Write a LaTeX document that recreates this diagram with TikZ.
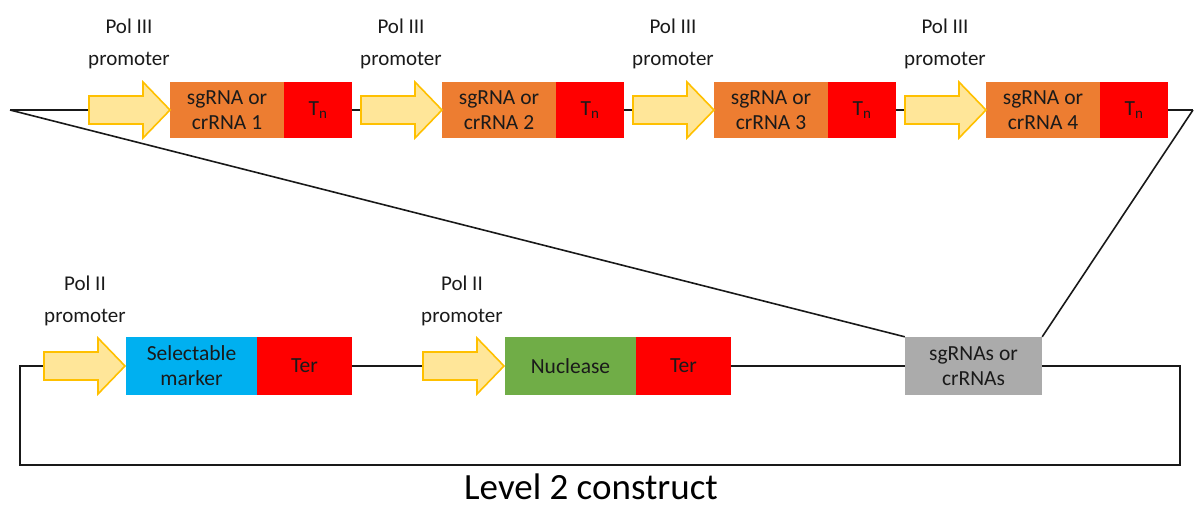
\documentclass[tikz,border=0pt]{standalone}
\usepackage{fontspec}
\setmainfont{Carlito}
\definecolor{promofill}{HTML}{FFE699}
\definecolor{promoline}{HTML}{FFC000}
\definecolor{orng}{HTML}{ED7D31}
\definecolor{rd}{HTML}{FF0000}
\definecolor{bl}{HTML}{00B0F0}
\definecolor{gr}{HTML}{70AD47}
\definecolor{gy}{HTML}{ABABAB}
\definecolor{txt}{HTML}{1A1A1A}
\tikzset{
  promo/.style={draw=promoline, fill=promofill, line width=1.6pt, line join=miter},
  part/.style={inner sep=0pt, minimum height=56pt, align=center, text=txt, font=\fontsize{21.5}{25}\selectfont},
  orbox/.style={part, fill=orng, minimum width=114pt},
  tnbox/.style={part, fill=rd, minimum width=68pt},
  selbox/.style={part, fill=bl, minimum width=131pt, minimum height=58pt},
  terbox/.style={part, fill=rd, minimum width=95pt, minimum height=58pt},
  nucbox/.style={part, fill=gr, minimum width=131pt, minimum height=58pt},
  grbox/.style={part, fill=gy, minimum width=137pt, minimum height=58pt},
  lbl/.style={align=center, text=txt, font=\fontsize{21}{32}\selectfont, inner sep=0pt},
  wire/.style={draw=black!90, line width=1.6pt},
}
\newcommand\promoter[3]{%
  \coordinate (#1w) at (#2,#3);
  \coordinate (#1e) at ({#2+81},#3);
  \draw[promo] (#2,{#3-14}) -- ({#2+54},{#3-14}) -- ({#2+54},{#3-28}) -- ({#2+81},#3)
     -- ({#2+54},{#3+28}) -- ({#2+54},{#3+14}) -- (#2,{#3+14}) -- cycle;
}
\begin{document}
\begin{tikzpicture}[x=1pt,y=-1pt]
\useasboundingbox (0,0) rectangle (1195,507);
% ---- top row (Pol III cassettes) ----
\coordinate (tl) at (10,110);
\coordinate (tr) at (1193,110);
\foreach \i in {1,2,3,4}{
  \pgfmathsetmacro\dx{272*(\i-1)}
  \node[lbl] (p3lab\i) at ({129+\dx},44) {Pol III\\promoter};
}
\coordinate (a1w) at (89,110);
\draw[wire] (tl) -- (a1w);
\node[orbox] (g1) at (227,110) {sgRNA or\\crRNA 1};
\node[tnbox] (t1) at (318,110) {T\textsubscript{n}};
\node[orbox] (g2) at (499,110) {sgRNA or\\crRNA 2};
\node[tnbox] (t2) at (590,110) {T\textsubscript{n}};
\node[orbox] (g3) at (771,110) {sgRNA or\\crRNA 3};
\node[tnbox] (t3) at (862,110) {T\textsubscript{n}};
\node[orbox] (g4) at (1043,110) {sgRNA or\\crRNA 4};
\node[tnbox] (t4) at (1134,110) {T\textsubscript{n}};
\coordinate (a2w) at (361,110);
\coordinate (a3w) at (633,110);
\coordinate (a4w) at (905,110);
\draw[wire] (t1.east) -- (a2w);
\draw[wire] (t2.east) -- (a3w);
\draw[wire] (t3.east) -- (a4w);
\draw[wire] (t4.east) -- (tr);
\promoter{a1}{89}{110}
\promoter{a2}{361}{110}
\promoter{a3}{633}{110}
\promoter{a4}{905}{110}
% ---- bottom row ----
\node[lbl] (p2lab1) at (85,301) {Pol II\\promoter};
\node[lbl] (p2lab2) at (462,301) {Pol II\\promoter};
\node[selbox] (sel) at (191.5,366) {Selectable\\marker};
\node[terbox] (ter1) at (304.5,366) {Ter};
\node[nucbox] (nuc) at (570.5,366) {Nuclease};
\node[terbox] (ter2) at (683.5,366) {Ter};
\node[grbox] (sg) at (973.5,366) {sgRNAs or\\crRNAs};
\coordinate (b1w) at (44,366);
\coordinate (b2w) at (423,366);
\draw[wire] (ter1.east) -- (b2w);
\draw[wire] (ter2.east) -- (sg.west);
\draw[wire, line join=miter] (sg.east) -- (1180,366) -- (1180,465) -- (20,465) -- (20,366) -- (b1w);
\promoter{b1}{44}{366}
\promoter{b2}{423}{366}
% ---- expansion lines ----
\draw[wire] (tl) -- (sg.north west);
\draw[wire] (tr) -- (sg.north east);
% ---- caption ----
\node[text=black, font=\fontsize{37}{40}\selectfont, inner sep=0pt, anchor=base] (cap) at (591,499) {Level 2 construct};
\end{tikzpicture}
\end{document}
